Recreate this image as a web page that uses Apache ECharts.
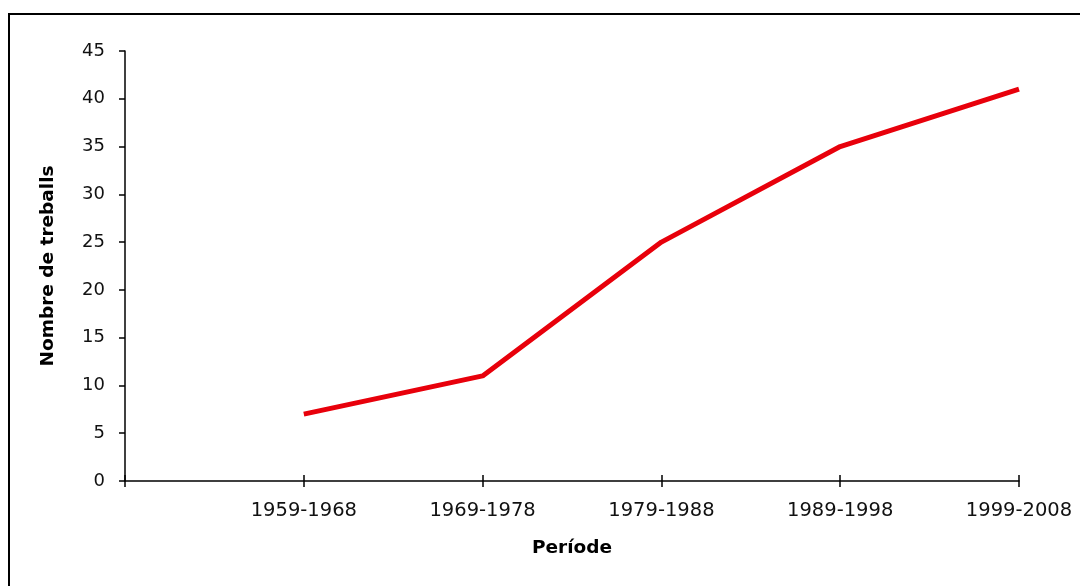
<!DOCTYPE html>
<html><head><meta charset="utf-8">
<script src="https://cdn.jsdelivr.net/npm/echarts@6/dist/echarts.min.js"></script>
<style>html,body{margin:0;padding:0;background:#fff}#c{width:1080px;height:586px}
#b{position:absolute;left:8px;top:13px;width:1100px;height:600px;border:2px solid #000;box-sizing:border-box;pointer-events:none}</style>
</head><body><div id="c"></div><div id="b"></div>
<script>
const categories = ['', '1959-1968', '1969-1978', '1979-1988', '1989-1998', '1999-2008'];
const values = [null, 7, 11, 25, 35, 41];
const yTicks = { min: 0, max: 45, interval: 5 };
const xTitle = 'Període';
const yTitle = 'Nombre de treballs';

const font = 'DejaVu Sans, Liberation Sans, Arial, sans-serif';
const chart = echarts.init(document.getElementById('c'));
const grid = { left: 125, right: 61, top: 51, bottom: 105 };
chart.setOption({
  animation: false,
  grid: grid,
  xAxis: [{
    type: 'category', data: categories, boundaryGap: false,
    name: xTitle, nameLocation: 'middle', nameGap: 58,
    nameTextStyle: { fontFamily: font, fontSize: 18.5, fontWeight: 'bold', color: '#000' },
    axisLine: { lineStyle: { color: '#000', width: 1.5 } },
    axisTick: { show: true, length: 6, lineStyle: { color: '#000', width: 1.5 } },
    axisLabel: { fontFamily: font, fontSize: 19.5, color: '#111', margin: 20 },
    splitLine: { show: false }
  }, {
    type: 'category', data: categories, boundaryGap: false, position: 'bottom',
    axisLine: { show: false },
    axisTick: { show: true, inside: true, length: 6, lineStyle: { color: '#000', width: 1.5 } },
    axisLabel: { show: false }, splitLine: { show: false }
  }],
  yAxis: {
    type: 'value', min: yTicks.min, max: yTicks.max, interval: yTicks.interval,
    name: yTitle, nameLocation: 'middle', nameGap: 67, nameRotate: 90,
    nameTextStyle: { fontFamily: font, fontSize: 18.5, fontWeight: 'bold', color: '#000' },
    axisLine: { show: true, lineStyle: { color: '#000', width: 1.5 } },
    axisTick: { show: true, length: 6, lineStyle: { color: '#000', width: 1.5 } },
    axisLabel: { fontFamily: font, fontSize: 18, color: '#111', margin: 20 },
    splitLine: { show: false }
  },
  series: [{
    type: 'line', data: values, xAxisIndex: 0,
    showSymbol: false, symbol: 'none',
    lineStyle: { color: '#e8000b', width: 5 },
    connectNulls: false
  }]
});
</script></body></html>
